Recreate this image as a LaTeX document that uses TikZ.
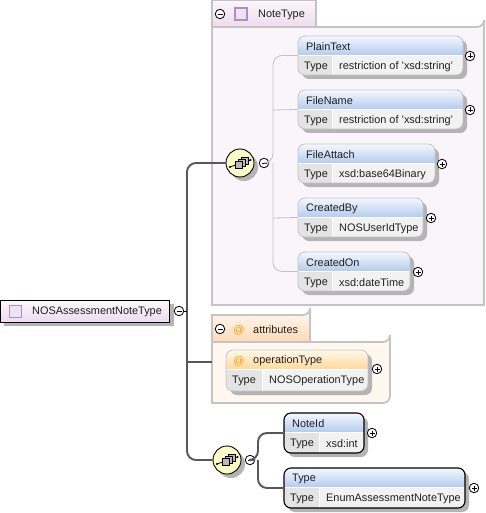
\documentclass[tikz,border=0pt]{standalone}
\usepackage{fontspec}
\setmainfont{Liberation Sans}
\usetikzlibrary{calc}
\definecolor{txt}{HTML}{202020}
\definecolor{shadowc}{HTML}{B4B4B4}
\definecolor{panelb}{HTML}{C4C4C4}
\definecolor{bus}{HTML}{585858}
\definecolor{thinc}{HTML}{C0C0C0}
\definecolor{cellg}{HTML}{E4E4E4}
\definecolor{cellv}{HTML}{F2F2F2}
\definecolor{bluehi}{HTML}{F4F8FE}
\definecolor{bluelo}{HTML}{B4CCEE}
\definecolor{orghi}{HTML}{FFF8EC}
\definecolor{orglo}{HTML}{FFD99A}
\definecolor{purp}{HTML}{B48CC4}
\definecolor{iconf}{HTML}{EDE4F2}
\tikzset{
  x=1pt,y=-1pt,
  lbl/.style={anchor=west,inner sep=0pt,text=txt,font=\fontsize{10.9}{12}\selectfont},
  busline/.style={draw=bus,line width=1.9pt,rounded corners=9pt},
  thinline/.style={draw=thinc,line width=.8pt,rounded corners=9pt},
  toggle/.style={circle,draw=black,fill=white,line width=.8pt,minimum size=9.5pt,inner sep=0pt},
  panel/.style={draw=panelb,line width=1.8pt},
  seqc/.style={circle,draw=black,line width=.9pt,fill=yellow!22!white,minimum size=28pt,inner sep=0pt},
  typeicon/.style={rectangle,draw=purp,fill=iconf,line width=1.1pt,minimum size=12pt,inner sep=0pt},
}
\newcommand{\plusat}[3]{\node[toggle] (#1) at (#2,#3) {};
  \draw[line width=.8pt] (#2-2.5,#3) -- (#2+2.5,#3) (#2,#3-2.5) -- (#2,#3+2.5);}
\newcommand{\minusat}[3]{\node[toggle] (#1) at (#2,#3) {};
  \draw[line width=.8pt] (#2-2.5,#3) -- (#2+2.5,#3);}
% name, x1, y1, x2, y2, divider x, title, type, border colour
\newcommand{\elem}[9]{%
  \fill[shadowc,rounded corners=7pt] (#2+4,#3+4) rectangle (#4+4,#5+4);
  \begin{scope}
    \clip[rounded corners=7pt] (#2,#3) rectangle (#4,#5);
    \shade[top color=\elemhi,bottom color=\elemlo] (#2,#3) rectangle (#4,#3+19);
    \fill[cellg] (#2,#3+19) rectangle (#6,#5);
    \fill[cellv] (#6,#3+19) rectangle (#4,#5);
    \draw[white,line width=.8pt] (#2,#3+19) -- (#4,#3+19) (#6,#3+19) -- (#6,#5);
  \end{scope}
  \path let \n1={#4-(#2)}, \n2={#5-(#3)} in
    node[rectangle,rounded corners=7pt,minimum width=\n1 pt,minimum height=\n2 pt,inner sep=0pt,
      draw=#9,line width=\elemw] (#1) at ({(#2+#4)/2},{(#3+#5)/2}) {};
  \node[lbl] (#1t) at (#2+\elemind,#3+11) {#7};
  \node[lbl] (#1k) at (#2+6,#3+30.5) {Type};
  \node[lbl] (#1v) at (#6+7,#3+30.5) {#8};
}
\newcommand{\elemw}{.8pt}
\newcommand{\elemhi}{bluehi}
\newcommand{\elemlo}{bluelo}
\newcommand{\elemind}{8}
\newcommand{\seqicon}[2]{%
  \begin{scope}[shift={(#1,#2)}]
    \draw[line width=.8pt] (-10,4) -- (10.5,-3);
    \fill (-10,4) circle (1.2pt) (10.5,-3) circle (1.2pt);
    \foreach \dx/\dy in {5/-2,2/0,-1/2}{
      \draw[black,fill=gray!55!white,line width=.6pt] (\dx-3.5,\dy-3.5) rectangle (\dx+3.5,\dy+3.5);
    }
  \end{scope}}
\begin{document}
\begin{tikzpicture}
\useasboundingbox (0,0) rectangle (486,513);
\fill[white] (0,0) rectangle (486,513);

% NoteType panel
\path[panel,fill=violet!4!white] (212,27) -- (477,27) arc[start angle=90,end angle=0,radius=7] -- (484,305) -- (212,305) -- cycle;
\path[panel,top color=violet!3!white,bottom color=violet!14!white] (212,0) rectangle (316,27);
\node[typeicon] (noteicon) at (241,14) {};
\minusat{notemin}{220}{14}
\node[lbl] (notelab) at (258,15) {NoteType};

% Attributes panel
\path[panel,fill=orange!6!white] (212,342) -- (383,342) arc[start angle=90,end angle=0,radius=7] -- (390,396) arc[start angle=0,end angle=90,radius=7] -- (212,403) -- cycle;
\path[panel,top color=orange!3!white,bottom color=orange!30!white] (212,342) -- (212,315) -- (303,315) arc[start angle=90,end angle=0,radius=7] -- (310,342) -- cycle;
\minusat{attmin}{220}{329}
\node[anchor=center,inner sep=0pt,text=orange!80!yellow,font=\fontsize{11}{12}\selectfont] (atticon) at (239,330) {@};
\node[lbl] (attlab) at (253,330) {attributes};

% root
\fill[shadowc] (4,304) rectangle (174,326);
\node[rectangle,draw=black,line width=.9pt,top color=violet!2!white,bottom color=violet!14!white,minimum width=169pt,minimum height=22pt,inner sep=0pt] (root) at (85,311) {};
\node[typeicon] (rooticon) at (15.5,311.5) {};
\node[lbl] (rootlab) at (32,312) {NOSAssessmentNoteType};
\minusat{rootmin}{179}{311}

% main bus
\coordinate (busx) at (187,311);
\coordinate (attjoin) at (212,362);
\fill[shadowc] (244,167) circle (14pt);
\fill[shadowc] (231,464) circle (14pt);
\node[seqc] (seqA) at (240,163) {};
\node[seqc] (seqB) at (227,460) {};
\draw[busline] (seqA.west) -| (busx) ;
\draw[busline] (seqB.west) -| (busx);
\draw[draw=bus,line width=1.9pt] (busx |- attjoin) -- (attjoin);
\draw[draw=black,line width=.8pt] (rootmin.east) -- (busx);
\seqicon{240}{163}
\seqicon{227}{460}
\minusat{seqAmin}{264}{163}
\minusat{seqBmin}{250}{460}

% upper elements
\elem{plain}{298}{36}{463}{75}{332}{PlainText}{restriction of 'xsd:string'}{panelb}
\elem{fname}{298}{90}{463}{129}{332}{FileName}{restriction of 'xsd:string'}{panelb}
\elem{fatt}{298}{144}{435}{183}{332}{FileAttach}{xsd:base64Binary}{panelb}
\elem{cby}{298}{198}{423}{237}{332}{CreatedBy}{NOSUserIdType}{panelb}
\elem{con}{298}{252}{410}{291}{332}{CreatedOn}{xsd:dateTime}{panelb}
\plusat{plainp}{470}{56}
\plusat{fnamep}{470}{110}
\plusat{fattp}{442}{164}
\plusat{cbyp}{431}{218}
\plusat{conp}{418}{272}

% inner connectors
\draw[thinline] (seqAmin.east) -- (273,163) |- (plain.west);
\draw[thinline] (273,163) |- (con.west);
\draw[draw=thinc,line width=.8pt] (273,110) -- (fname.west);
\draw[draw=thinc,line width=.8pt] (273,218) -- (cby.west);

% attribute element
\renewcommand{\elemhi}{orghi}\renewcommand{\elemlo}{orglo}\renewcommand{\elemind}{27}
\elem{optype}{226}{350}{368}{391}{262}{operationType}{NOSOperationType}{panelb}
\node[inner sep=0pt,text=orange!80!yellow,font=\fontsize{11}{12}\selectfont] (opicon) at (239,361) {@};
\plusat{optypep}{377}{369}

% lower
\renewcommand{\elemhi}{bluehi}\renewcommand{\elemlo}{bluelo}\renewcommand{\elemind}{8}\renewcommand{\elemw}{1.1pt}
\elem{noteid}{284}{413}{364}{453}{319}{NoteId}{xsd:int}{black}
\elem{typ}{284}{468}{465}{508}{319}{Type}{EnumAssessmentNoteType}{black}
\draw[busline] (seqBmin.east) -- (258,460) |- (noteid.west);
\draw[busline] (258,460) |- (typ.west);
\plusat{noteidp}{372}{433}
\plusat{typp}{474}{488}
\end{tikzpicture}
\end{document}
